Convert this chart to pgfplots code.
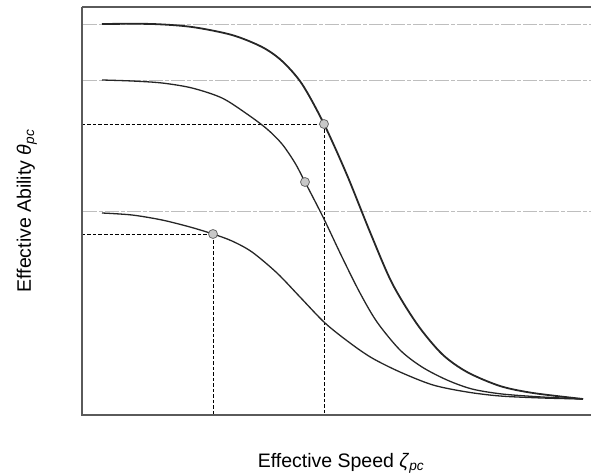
\documentclass[border=0pt]{standalone}
\usepackage{fontspec}
\setmainfont{Liberation Sans}
\usepackage{pgfplots}
\pgfplotsset{compat=1.18}
\definecolor{curve}{HTML}{262626}
\definecolor{axisc}{HTML}{5A5A5A}
\definecolor{gridc}{HTML}{BEBEBE}
\definecolor{ptfill}{HTML}{C8C8C8}
\definecolor{ptdraw}{HTML}{6A6A6A}
\begin{document}
\begin{tikzpicture}
\useasboundingbox (-82pt,-61pt) rectangle (509pt,415pt);
\begin{axis}[
  at={(0,0)}, anchor=south west,
  scale only axis, width=509pt, height=408pt,
  xmin=0, xmax=509, ymin=0, ymax=408,
  xtick=\empty, ytick=\empty,
  axis line style={draw=none},
  clip=false,
]
% asymptote guide lines
\addplot[gridc, line width=0.8pt, dash pattern=on 14pt off 2pt on 4pt off 2pt] coordinates {(1,391) (509,391)};
\addplot[gridc, line width=0.8pt, dash pattern=on 14pt off 2pt on 4pt off 2pt] coordinates {(1,335) (509,335)};
\addplot[gridc, line width=0.8pt, dash pattern=on 14pt off 2pt on 4pt off 2pt] coordinates {(1,204) (509,204)};
% dashed reference lines
\addplot[black, line width=0.8pt, dash pattern=on 3.5pt off 2pt] coordinates {(0,291) (242,291) (242,0)};
\addplot[black, line width=0.8pt, dash pattern=on 3.5pt off 2pt] coordinates {(0,181) (131,181) (131,0)};
% curve 1 (top, thick)
\addplot[curve, line width=1.8pt, smooth, tension=0.5] coordinates {
(20,391) (70,391) (110,388) (150,380) (180,368) (200,354) (220,331) (242,291)
(265,240) (288,183) (310,132) (335,91) (360,61) (385,43) (418,29) (451,22) (501,16)};
% curve 2 (middle)
\addplot[curve, line width=1.3pt, smooth, tension=0.5] coordinates {
(20,335) (50,334) (80,332) (110,327) (140,317) (165,301) (185,286) (200,271)
(213,252) (223,233) (241,198) (260,158) (278,122) (295,93) (318,65)
(340,48) (365,35) (390,26) (420,21) (460,18) (501,16)};
% curve 3 (bottom)
\addplot[curve, line width=1.3pt, smooth, tension=0.5] coordinates {
(20,202) (50,200) (80,195) (108,188) (131,181) (150,174) (170,163) (195,142)
(218,118) (243,92) (268,72) (290,57) (318,43) (351,30) (385,23) (418,19) (460,17) (501,16)};
% marked points
\addplot[only marks, mark=*, mark size=4.5pt, mark options={fill=ptfill, draw=ptdraw, line width=0.8pt}] coordinates {(242,291) (223,233) (131,181)};
% axis frame (left, bottom, top)
\draw[axisc, line width=1.2pt] (rel axis cs:0,1) -- (rel axis cs:0,0) -- (rel axis cs:1,0);
\draw[axisc, line width=1.2pt] (rel axis cs:0,1) -- (rel axis cs:1,1);
% labels
\path (rel axis cs:0.5,0) ++(4.5pt,-52pt) node[anchor=base, font=\fontsize{19.5}{23}\selectfont] {Effective Speed \textit{ζ}\textsubscript{\textit{pc}}};
\path (rel axis cs:0,0.5) ++(-51pt,0) node[rotate=90, anchor=base, font=\fontsize{19.5}{23}\selectfont] {Effective Ability \textit{θ}\textsubscript{\textit{pc}}};
\end{axis}
\end{tikzpicture}
\end{document}
